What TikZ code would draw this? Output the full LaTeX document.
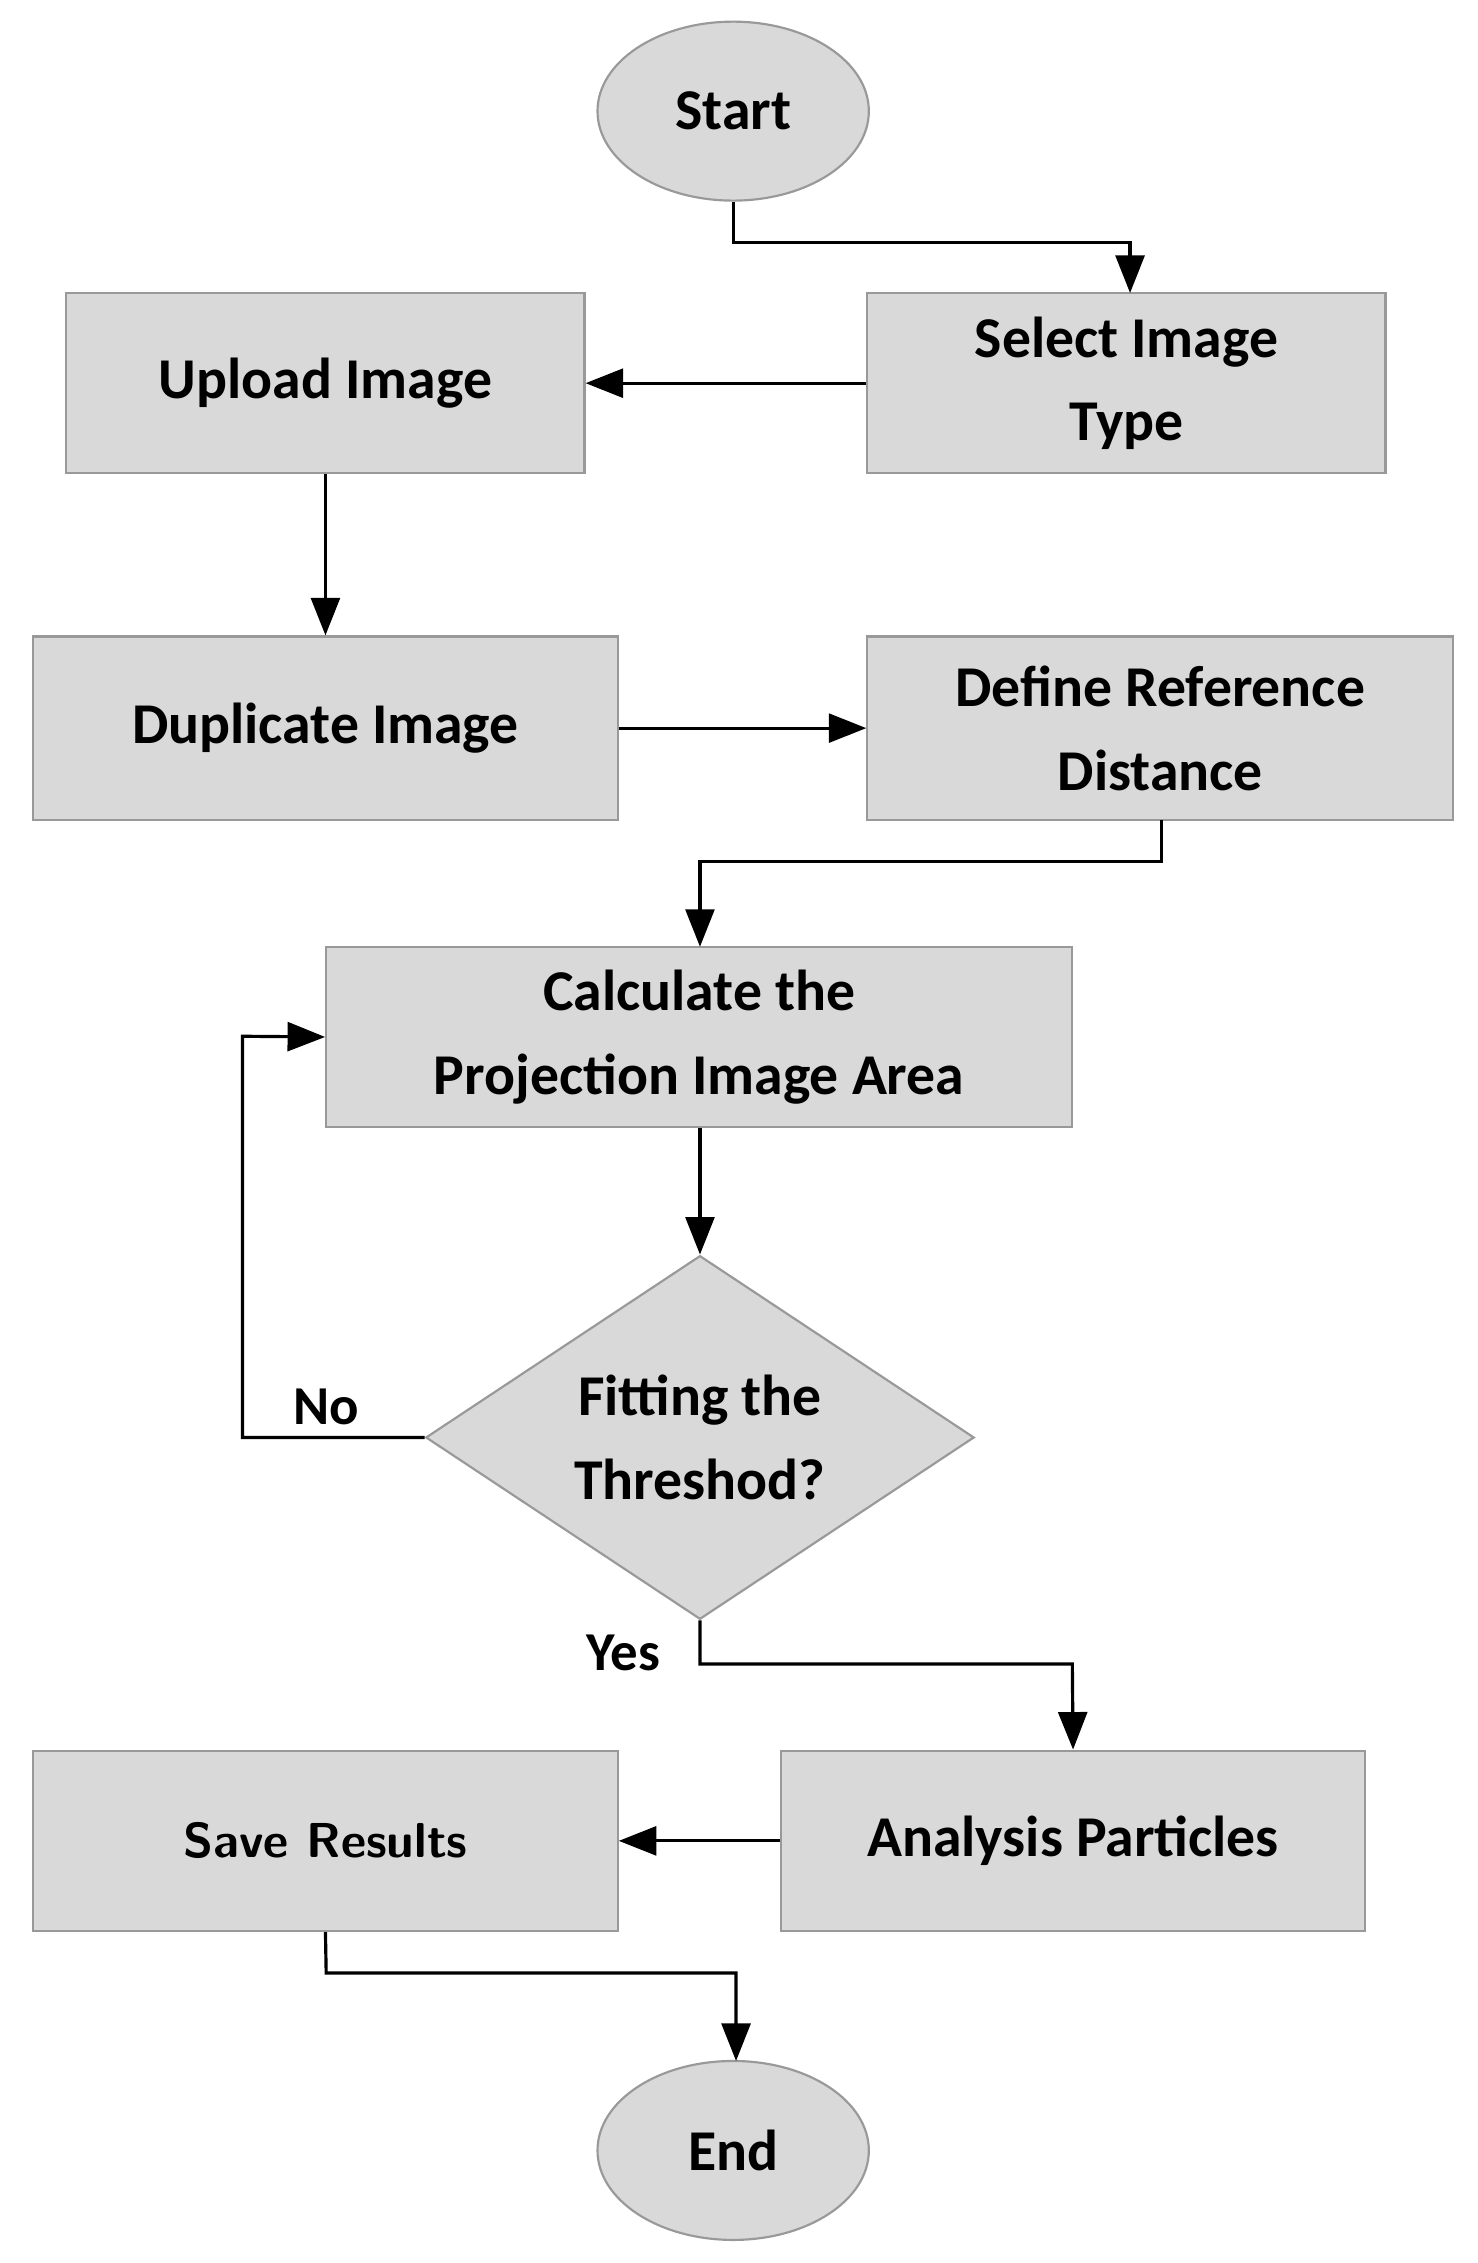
\documentclass[tikz,border=0pt]{standalone}
\usepackage{fontspec}
\setmainfont{Carlito}
\usetikzlibrary{arrows.meta,shapes.geometric}
\begin{document}
\begin{tikzpicture}[x=1pt,y=-1pt,
  box/.style={draw=black!40,fill=black!15,line width=1.5pt,minimum height=125pt,align=center,font=\fontsize{40}{58}\selectfont\bfseries,inner sep=0pt},
  ell/.style={ellipse,draw=black!40,fill=black!15,line width=1.5pt,minimum width=188pt,minimum height=124pt,font=\fontsize{40}{48}\selectfont\bfseries},
  arr/.style={line width=2.2pt,-{Triangle[length=26pt,width=20pt]}},
  lbl/.style={font=\fontsize{38}{44}\selectfont\bfseries}]
\useasboundingbox (0,0) rectangle (1024,1568);
\node[ell] (start) at (508,77) {Start};
\node[box,minimum width=359pt] (sel) at (780.5,265.5) {Select Image\\Type};
\node[box,minimum width=359pt] (up) at (225.5,265.5) {Upload Image};
\node[box,minimum width=405pt,minimum height=127pt] (dup) at (225.5,504.5) {Duplicate Image};
\node[box,minimum width=406pt,minimum height=127pt] (def) at (804,504.5) {Define Reference\\Distance};
\node[box,minimum width=517pt] (calc) at (484.5,718.5) {Calculate the\\Projection Image Area};
\node[diamond,aspect=1.51,draw=black!40,fill=black!15,line width=1.5pt,minimum width=380pt,minimum height=252pt,inner sep=0pt,align=center,font=\fontsize{40}{58}\selectfont\bfseries] (dia) at (485,996) {Fitting the\\Threshod?};
\node[box,minimum width=405pt] (ana) at (743.5,1275.5) {Analysis Particles};
\node[box,minimum width=405pt] (save) at (225.5,1275.5) {\fontsize{34}{40}\selectfont\sffamily Save Results};
\node[ell] (end) at (508,1490) {End};
\coordinate (c1) at (508,168); \coordinate (c2) at (783,168);
\draw[arr] (start.south) -- (c1) -- (c2) -- (783,203);
\draw[arr] (sel.west) -- (up.east);
\draw[arr] (up.south) -- (dup.north-|up.south);
\draw[arr] (dup.east) -- (def.west);
\coordinate (d1) at (805,597); \coordinate (d2) at (485,597);
\draw[arr] (805,568) -- (d1) -- (d2) -- (485,656);
\draw[arr] (calc.south-|dia.north) -- (dia.north);
\coordinate (n1) at (168,996); \coordinate (n2) at (168,718);
\draw[arr] (dia.west) -- (n1) -- (n2) -- (calc.west);
\node[lbl] (no) at (226,975) {No};
\coordinate (y1) at (485,1153); \coordinate (y2) at (743,1153);
\draw[arr] (dia.south) -- (y1) -- (y2) -- (ana.north);
\node[lbl] (yes) at (432,1145) {Yes};
\draw[arr] (ana.west) -- (save.east);
\coordinate (s1) at (226,1367); \coordinate (s2) at (510,1367);
\draw[arr] (save.south) -- (s1) -- (s2) -- (510,1428);
\end{tikzpicture}
\end{document}
